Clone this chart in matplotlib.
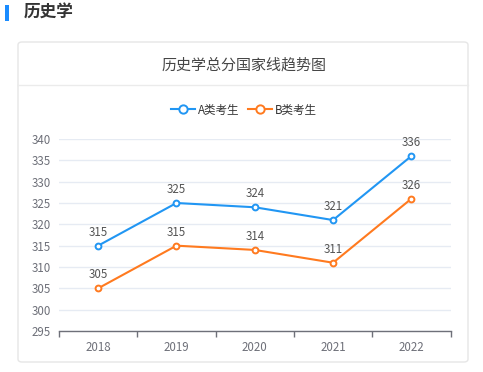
import matplotlib
matplotlib.use("Agg")
import matplotlib.pyplot as plt
from matplotlib.patches import FancyBboxPatch, Rectangle
from matplotlib.lines import Line2D

plt.rcParams['font.family'] = ['Noto Sans CJK SC', 'DejaVu Sans']

years = ['2018', '2019', '2020', '2021', '2022']
series_a = [315, 325, 324, 321, 336]
series_b = [305, 315, 314, 311, 326]
series_names = ['A类考生', 'B类考生']
page_title = '历史学'
chart_title = '历史学总分国家线趋势图'
yticks = [295, 300, 305, 310, 315, 320, 325, 330, 335, 340]

W, H = 483, 372
fig = plt.figure(figsize=(W / 100, H / 100), dpi=100)
fig.patch.set_facecolor('white')

def fx(px):
    return px / W

def fy(py):
    return 1 - py / H

# page title with blue bar
fig.patches.append(Rectangle((fx(5), fy(21)), fx(4), 16 / H, transform=fig.transFigure,
                             facecolor='#1a8cff', edgecolor='none', zorder=-2))
fig.text(fx(24), fy(13), page_title, fontsize=12, fontweight='bold', color='#333333',
         ha='left', va='center')

# card
card = FancyBboxPatch((fx(18), fy(362)), fx(450), (362 - 42) / H,
                      boxstyle='round,pad=0,rounding_size=0.008', transform=fig.transFigure,
                      facecolor='white', edgecolor='#e6e6e6', linewidth=1.0, zorder=-5)
fig.patches.append(card)
fig.lines.append(Line2D([fx(18), fx(468)], [fy(85), fy(85)], transform=fig.transFigure,
                        color='#ebebeb', linewidth=1.0, zorder=-4))
fig.text(fx(244), fy(65), chart_title, fontsize=10.8, color='#464646', ha='center', va='center')

# axes
left, right, top, bottom = 59, 450.5, 139, 331
ax = fig.add_axes([fx(left), fy(bottom), fx(right - left), (bottom - top) / H])
ax.set_facecolor('none')
ax.set_zorder(2)
x = list(range(len(years)))
c_a = '#2196F3'
c_b = '#FF7A1F'
ax.plot(x, series_a, color=c_a, linewidth=1.5, marker='o', markersize=4.2,
        markerfacecolor='white', markeredgecolor=c_a, markeredgewidth=1.4, label=series_names[0], zorder=3)
ax.plot(x, series_b, color=c_b, linewidth=1.5, marker='o', markersize=4.2,
        markerfacecolor='white', markeredgecolor=c_b, markeredgewidth=1.4, label=series_names[1], zorder=3)
for xi, v in zip(x, series_a):
    ax.annotate(str(v), (xi, v), xytext=(0, 5), textcoords='offset points', ha='center', va='bottom',
                fontsize=8.3, color='#555555', annotation_clip=False)
for xi, v in zip(x, series_b):
    ax.annotate(str(v), (xi, v), xytext=(0, 5), textcoords='offset points', ha='center', va='bottom',
                fontsize=8.3, color='#555555', annotation_clip=False)

ax.set_xlim(-0.5, len(years) - 0.5)
ax.set_ylim(295, 340)
ax.set_yticks(yticks)
ax.set_yticklabels([str(t) for t in yticks])
ax.set_xticks(x)
ax.set_xticklabels(years)
ax.set_xticks([i - 0.5 for i in range(len(years) + 1)], minor=True)
ax.tick_params(axis='x', which='major', length=0, pad=7, labelsize=8.3, labelcolor='#6E7079')
ax.tick_params(axis='x', which='minor', length=4, width=1, color='#6E7079', direction='out')
ax.tick_params(axis='y', length=0, pad=6, labelsize=8.3, labelcolor='#6E7079')
ax.grid(axis='y', color='#E6EBF3', linewidth=1)
ax.set_axisbelow(True)
for s in ['top', 'right', 'left']:
    ax.spines[s].set_visible(False)
ax.spines['bottom'].set_color('#6E7079')
ax.spines['bottom'].set_linewidth(1)

leg = fig.legend(handles=ax.get_lines(), labels=series_names, loc='center',
                 bbox_to_anchor=(fx(244), fy(110)), ncol=2, frameon=False, fontsize=8.3,
                 handlelength=2.1, handletextpad=0.25, columnspacing=0.7, labelcolor='#333333')
for h in leg.legend_handles:
    h.set_markersize(6)

fig.savefig('out.png', dpi=100, facecolor='white')
